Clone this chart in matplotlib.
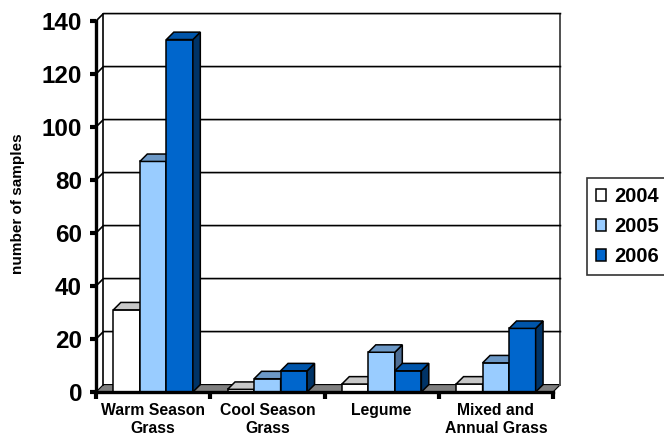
import numpy as np
import matplotlib
matplotlib.use("Agg")
import matplotlib.pyplot as plt
from matplotlib.patches import Polygon

plt.rcParams['font.family'] = ['Liberation Sans', 'DejaVu Sans']
plt.rcParams['font.weight'] = 'bold'

# data
categories = ["Warm Season\nGrass", "Cool Season\nGrass", "Legume", "Mixed and\nAnnual Grass"]
years = ["2004", "2005", "2006"]
vals_2004 = [31, 1, 3, 3]
vals_2005 = [87, 5, 15, 11]
vals_2006 = [133, 8, 8, 24]
series = [vals_2004, vals_2005, vals_2006]

# front / top / side colours for the fake 3d look
front_cols = ['#ffffff', '#99ccff', '#0066cc']
top_cols = ['#c8c8c8', '#6c98c6', '#0055aa']
side_cols = ['#808080', '#4d6d94', '#003366']

DX = 0.065   # depth offset, x data units
DY = 2.8     # depth offset, y data units
w = 0.232

fig = plt.figure(figsize=(6.64, 4.38), dpi=100)
ax = fig.add_axes([96 / 664, 1 - 392 / 438, 457 / 664, 371 / 438])
ax.set_xlim(-0.5, 3.5)
ax.set_ylim(0, 140)

x = np.arange(len(categories))
x0, x1 = -0.5, 3.5

# floor
ax.add_patch(Polygon([(x0, 0), (x1, 0), (x1 + DX, DY), (x0 + DX, DY)],
                     closed=True, fc='#7f7f7f', ec='black', lw=0.8, zorder=1, clip_on=False))
# back wall edges and gridlines
ax.plot([x0 + DX, x0 + DX], [DY, 140 + DY], color='black', lw=1.2, zorder=1.5, clip_on=False)
ax.plot([x1 + DX, x1 + DX], [DY, 140 + DY], color='#505050', lw=1.4, zorder=1.5, clip_on=False)
for v in range(20, 141, 20):
    ax.plot([x0, x0 + DX, x1 + DX], [v, v + DY, v + DY], color='black', lw=1.2,
            zorder=1.5, clip_on=False)

# bars
handles = []
for i, vals in enumerate(series):
    xs = x + (i - 1) * w
    z = 3 + i
    b = ax.bar(xs, vals, width=w, color=front_cols[i], edgecolor='black', lw=1.1,
               zorder=z, label=years[i])
    handles.append(b)
    for xc, v in zip(xs, vals):
        l, r = xc - w / 2, xc + w / 2
        top = Polygon([(l, v), (r, v), (r + DX, v + DY), (l + DX, v + DY)], closed=True,
                      fc=top_cols[i], ec='black', lw=1.1, zorder=z, clip_on=False)
        side = Polygon([(r, 0), (r + DX, DY), (r + DX, v + DY), (r, v)], closed=True,
                       fc=side_cols[i], ec='black', lw=1.1, zorder=z, clip_on=False)
        ax.add_patch(side)
        ax.add_patch(top)

# axes styling
for s in ['top', 'right']:
    ax.spines[s].set_visible(False)
for s in ['left', 'bottom']:
    ax.spines[s].set_linewidth(2.4)
    ax.spines[s].set_zorder(10)

ax.set_yticks(range(0, 141, 20))
ax.tick_params(axis='y', length=4, width=3, direction='out', labelsize=17.5, pad=6)
ax.set_xticks(x)
ax.set_xticklabels(categories, fontsize=11.3, fontweight='bold', linespacing=1.25)
ax.tick_params(axis='x', length=0, pad=8)
ax.set_xticks([-0.5, 0.5, 1.5, 2.5, 3.5], minor=True)
ax.tick_params(axis='x', which='minor', length=5, width=3, direction='out')
for lab in ax.get_yticklabels():
    lab.set_fontweight('bold')

fig.text(18 / 664, 1 - 204 / 438, "number of samples", rotation=90, fontsize=11,
         fontweight='bold', ha='center', va='center')

leg = fig.legend(handles=handles, labels=years, loc='upper left',
                 bbox_to_anchor=(587 / 664, 1 - 178 / 438), borderaxespad=0,
                 frameon=True, fancybox=False, edgecolor='black',
                 handlelength=0.5, handleheight=0.5, handletextpad=0.4,
                 labelspacing=0.55, borderpad=0.45, prop={'weight': 'bold', 'size': 14.5})
leg.get_frame().set_linewidth(1.2)

fig.savefig("out.png", dpi=100)
